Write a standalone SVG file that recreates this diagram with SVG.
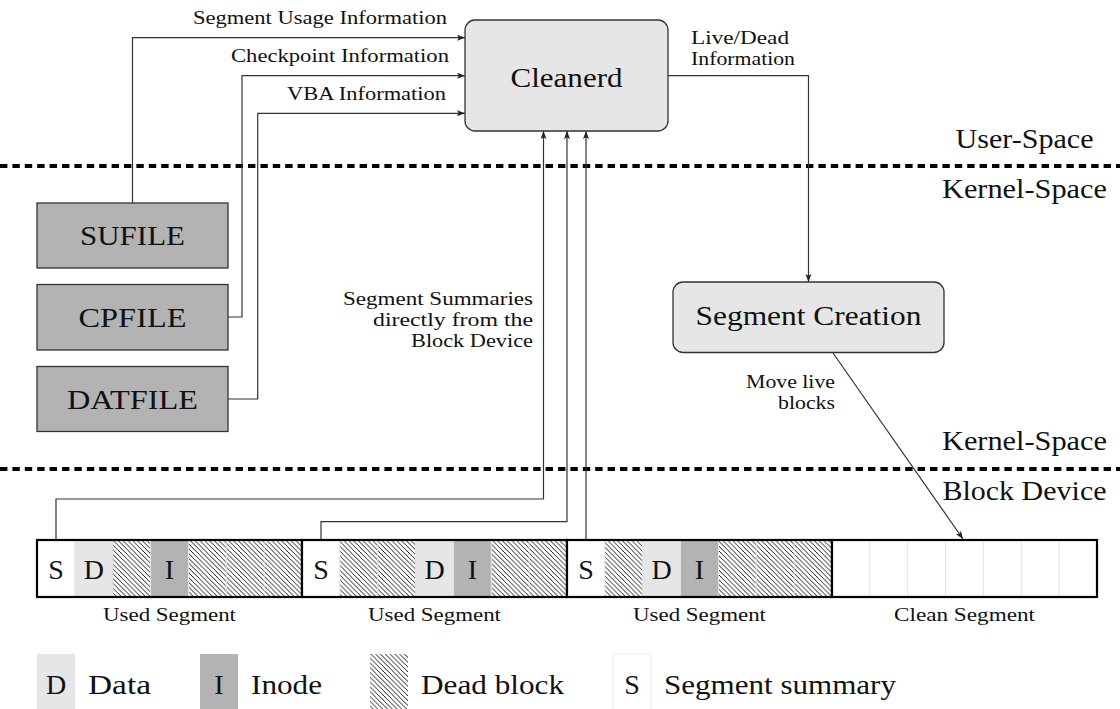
<svg xmlns="http://www.w3.org/2000/svg" width="1120" height="709" viewBox="0 0 1120 709">
  <style>
    text { font-family: "Liberation Serif", "Times New Roman", serif; fill: #111; }
    .big { font-size: 27px; }
    .letter { font-size: 28px; }
    .small { font-size: 19.5px; }
    .mid { text-anchor: middle; }
    .end { text-anchor: end; }
    .proc { fill: #e6e6e6; stroke: #333; stroke-width: 1.3; }
    .meta { fill: #b3b3b3; stroke: #333; stroke-width: 1.3; }
    .conn { fill: none; stroke: #333; stroke-width: 1.2; }
    .divider { stroke: #000; stroke-width: 4; stroke-dasharray: 7.4 5; }
    .data { fill: #e6e6e6; }
    .inode { fill: #b3b3b3; }
    .dead { fill: url(#hatch); }
    .sum { fill: #fff; }
    .sep { stroke: #e2e2e2; stroke-width: 1; }
    .segframe { fill: none; stroke: #000; stroke-width: 2.2; }
  </style>
  <defs>
    <pattern id="hatch" patternUnits="userSpaceOnUse" width="4.8" height="4.8">
      <rect width="4.8" height="4.8" fill="#fff"/>
      <path d="M0,0 L4.8,4.8 M-1.2,3.6 L1.2,6 M3.6,-1.2 L6,1.2" stroke="#000" stroke-width="0.9"/>
    </pattern>
    <marker id="arrow" markerUnits="userSpaceOnUse" markerWidth="9" markerHeight="7" refX="8" refY="3" orient="auto">
      <path d="M0,0 L8,3 L0,6 L1.8,3 z" fill="#222"/>
    </marker>
  </defs>

  <!-- space boundaries -->
  <g id="layers">
    <line class="divider" x1="0" y1="166" x2="1120" y2="166"/>
    <line class="divider" x1="0" y1="469" x2="1120" y2="469"/>
    <text class="big mid" x="1024.5" y="148" textLength="138" lengthAdjust="spacingAndGlyphs">User-Space</text>
    <text class="big mid" x="1024.5" y="197.5" textLength="165" lengthAdjust="spacingAndGlyphs">Kernel-Space</text>
    <text class="big mid" x="1024.5" y="450" textLength="165" lengthAdjust="spacingAndGlyphs">Kernel-Space</text>
    <text class="big mid" x="1024.5" y="500" textLength="164" lengthAdjust="spacingAndGlyphs">Block Device</text>
  </g>

  <!-- connectors -->
  <g id="connectors">
    <path class="conn" d="M132.5,203 V37.7 H465" marker-end="url(#arrow)"/>
    <path class="conn" d="M228,317 H242 V75.7 H465" marker-end="url(#arrow)"/>
    <path class="conn" d="M228,399 H257.7 V113.3 H465" marker-end="url(#arrow)"/>
    <path class="conn" d="M668,75.7 H808.5 V282" marker-end="url(#arrow)"/>
    <path class="conn" d="M56,540 V499 H543.5 V131" marker-end="url(#arrow)"/>
    <path class="conn" d="M321,540 V521.7 H567 V131" marker-end="url(#arrow)"/>
    <path class="conn" d="M586,540 V131" marker-end="url(#arrow)"/>
    <path class="conn" d="M833,353 L963,539" marker-end="url(#arrow)"/>
    <text class="small end" x="447" y="24" textLength="254" lengthAdjust="spacingAndGlyphs">Segment Usage Information</text>
    <text class="small end" x="449" y="62" textLength="218" lengthAdjust="spacingAndGlyphs">Checkpoint Information</text>
    <text class="small end" x="446" y="100" textLength="159" lengthAdjust="spacingAndGlyphs">VBA Information</text>
    <text class="small" x="691" y="44" textLength="98" lengthAdjust="spacingAndGlyphs">Live/Dead</text>
    <text class="small" x="691" y="65" textLength="104" lengthAdjust="spacingAndGlyphs">Information</text>
    <text class="small end" x="533" y="305" textLength="190" lengthAdjust="spacingAndGlyphs">Segment Summaries</text>
    <text class="small end" x="533" y="326" textLength="160" lengthAdjust="spacingAndGlyphs">directly from the</text>
    <text class="small end" x="533" y="347" textLength="122" lengthAdjust="spacingAndGlyphs">Block Device</text>
    <text class="small end" x="835" y="388" textLength="89" lengthAdjust="spacingAndGlyphs">Move live</text>
    <text class="small end" x="835" y="409" textLength="57" lengthAdjust="spacingAndGlyphs">blocks</text>
  </g>

  <!-- processes -->
  <g id="cleanerd">
    <rect class="proc" x="465" y="20" width="203" height="111" rx="10"/>
    <text class="big mid" x="566.5" y="87" textLength="112" lengthAdjust="spacingAndGlyphs">Cleanerd</text>
  </g>
  <g id="segment-creation">
    <rect class="proc" x="673" y="282" width="271" height="70.5" rx="10"/>
    <text class="big mid" x="808.5" y="325" textLength="226" lengthAdjust="spacingAndGlyphs">Segment Creation</text>
  </g>

  <!-- metadata files -->
  <g id="sufile">
    <rect class="meta" x="37" y="203" width="191" height="65"/>
    <text class="big mid" x="132.5" y="244.5" textLength="105" lengthAdjust="spacingAndGlyphs">SUFILE</text>
  </g>
  <g id="cpfile">
    <rect class="meta" x="37" y="284.5" width="191" height="65.5"/>
    <text class="big mid" x="132.5" y="326.5" textLength="108" lengthAdjust="spacingAndGlyphs">CPFILE</text>
  </g>
  <g id="datfile">
    <rect class="meta" x="37" y="366.5" width="191" height="65"/>
    <text class="big mid" x="132.5" y="408.5" textLength="131" lengthAdjust="spacingAndGlyphs">DATFILE</text>
  </g>

  <!-- block device segments -->
  <g id="segment-1">
    <rect class="sum" x="37" y="540" width="37.86" height="57"/>
    <rect class="data" x="74.86" y="540" width="37.86" height="57"/>
    <rect class="dead" x="112.71" y="540" width="37.86" height="57"/>
    <rect class="inode" x="150.57" y="540" width="37.86" height="57"/>
    <rect class="dead" x="188.43" y="540" width="113.57" height="57"/>
    <path class="sep" d="M74.86,540 V597 M112.71,540 V597 M150.57,540 V597 M188.43,540 V597 M226.29,540 V597 M264.14,540 V597"/>
    <rect class="segframe" x="37" y="540" width="265" height="57"/>
    <text class="letter mid" x="55.93" y="579">S</text>
    <text class="letter mid" x="93.79" y="579">D</text>
    <text class="letter mid" x="169.5" y="579">I</text>
    <text class="small mid" x="169.5" y="621" textLength="133" lengthAdjust="spacingAndGlyphs">Used Segment</text>
  </g>
  <g id="segment-2">
    <rect class="sum" x="302" y="540" width="37.86" height="57"/>
    <rect class="dead" x="339.86" y="540" width="75.71" height="57"/>
    <rect class="data" x="415.57" y="540" width="37.86" height="57"/>
    <rect class="inode" x="453.43" y="540" width="37.86" height="57"/>
    <rect class="dead" x="491.29" y="540" width="75.71" height="57"/>
    <path class="sep" d="M339.86,540 V597 M377.71,540 V597 M415.57,540 V597 M453.43,540 V597 M491.29,540 V597 M529.14,540 V597"/>
    <rect class="segframe" x="302" y="540" width="265" height="57"/>
    <text class="letter mid" x="320.93" y="579">S</text>
    <text class="letter mid" x="434.5" y="579">D</text>
    <text class="letter mid" x="472.36" y="579">I</text>
    <text class="small mid" x="434.5" y="621" textLength="133" lengthAdjust="spacingAndGlyphs">Used Segment</text>
  </g>
  <g id="segment-3">
    <rect class="sum" x="567" y="540" width="37.86" height="57"/>
    <rect class="dead" x="604.86" y="540" width="37.86" height="57"/>
    <rect class="data" x="642.71" y="540" width="37.86" height="57"/>
    <rect class="inode" x="680.57" y="540" width="37.86" height="57"/>
    <rect class="dead" x="718.43" y="540" width="113.57" height="57"/>
    <path class="sep" d="M604.86,540 V597 M642.71,540 V597 M680.57,540 V597 M718.43,540 V597 M756.29,540 V597 M794.14,540 V597"/>
    <rect class="segframe" x="567" y="540" width="265" height="57"/>
    <text class="letter mid" x="585.93" y="579">S</text>
    <text class="letter mid" x="661.64" y="579">D</text>
    <text class="letter mid" x="699.5" y="579">I</text>
    <text class="small mid" x="699.5" y="621" textLength="133" lengthAdjust="spacingAndGlyphs">Used Segment</text>
  </g>
  <g id="segment-4">
    <rect class="sum" x="832" y="540" width="265" height="57"/>
    <path class="sep" d="M869.86,540 V597 M907.71,540 V597 M945.57,540 V597 M983.43,540 V597 M1021.29,540 V597 M1059.14,540 V597"/>
    <rect class="segframe" x="832" y="540" width="265" height="57"/>
    <text class="small mid" x="964.5" y="621" textLength="141" lengthAdjust="spacingAndGlyphs">Clean Segment</text>
  </g>

  <!-- legend -->
  <g id="legend">
    <rect class="data" x="37" y="654" width="38" height="57"/>
    <text class="letter mid" x="56" y="694">D</text>
    <text class="big" x="88" y="694" textLength="63" lengthAdjust="spacingAndGlyphs">Data</text>
    <rect class="inode" x="200" y="654" width="38" height="57"/>
    <text class="letter mid" x="219" y="694">I</text>
    <text class="big" x="251" y="694" textLength="71" lengthAdjust="spacingAndGlyphs">Inode</text>
    <rect class="dead" x="370" y="654" width="38" height="57"/>
    <text class="big" x="421" y="694" textLength="143" lengthAdjust="spacingAndGlyphs">Dead block</text>
    <rect x="613" y="654" width="38" height="57" fill="#fff" stroke="#ececec" stroke-width="1"/>
    <text class="letter mid" x="632" y="694">S</text>
    <text class="big" x="664" y="694" textLength="232" lengthAdjust="spacingAndGlyphs">Segment summary</text>
  </g>
</svg>
